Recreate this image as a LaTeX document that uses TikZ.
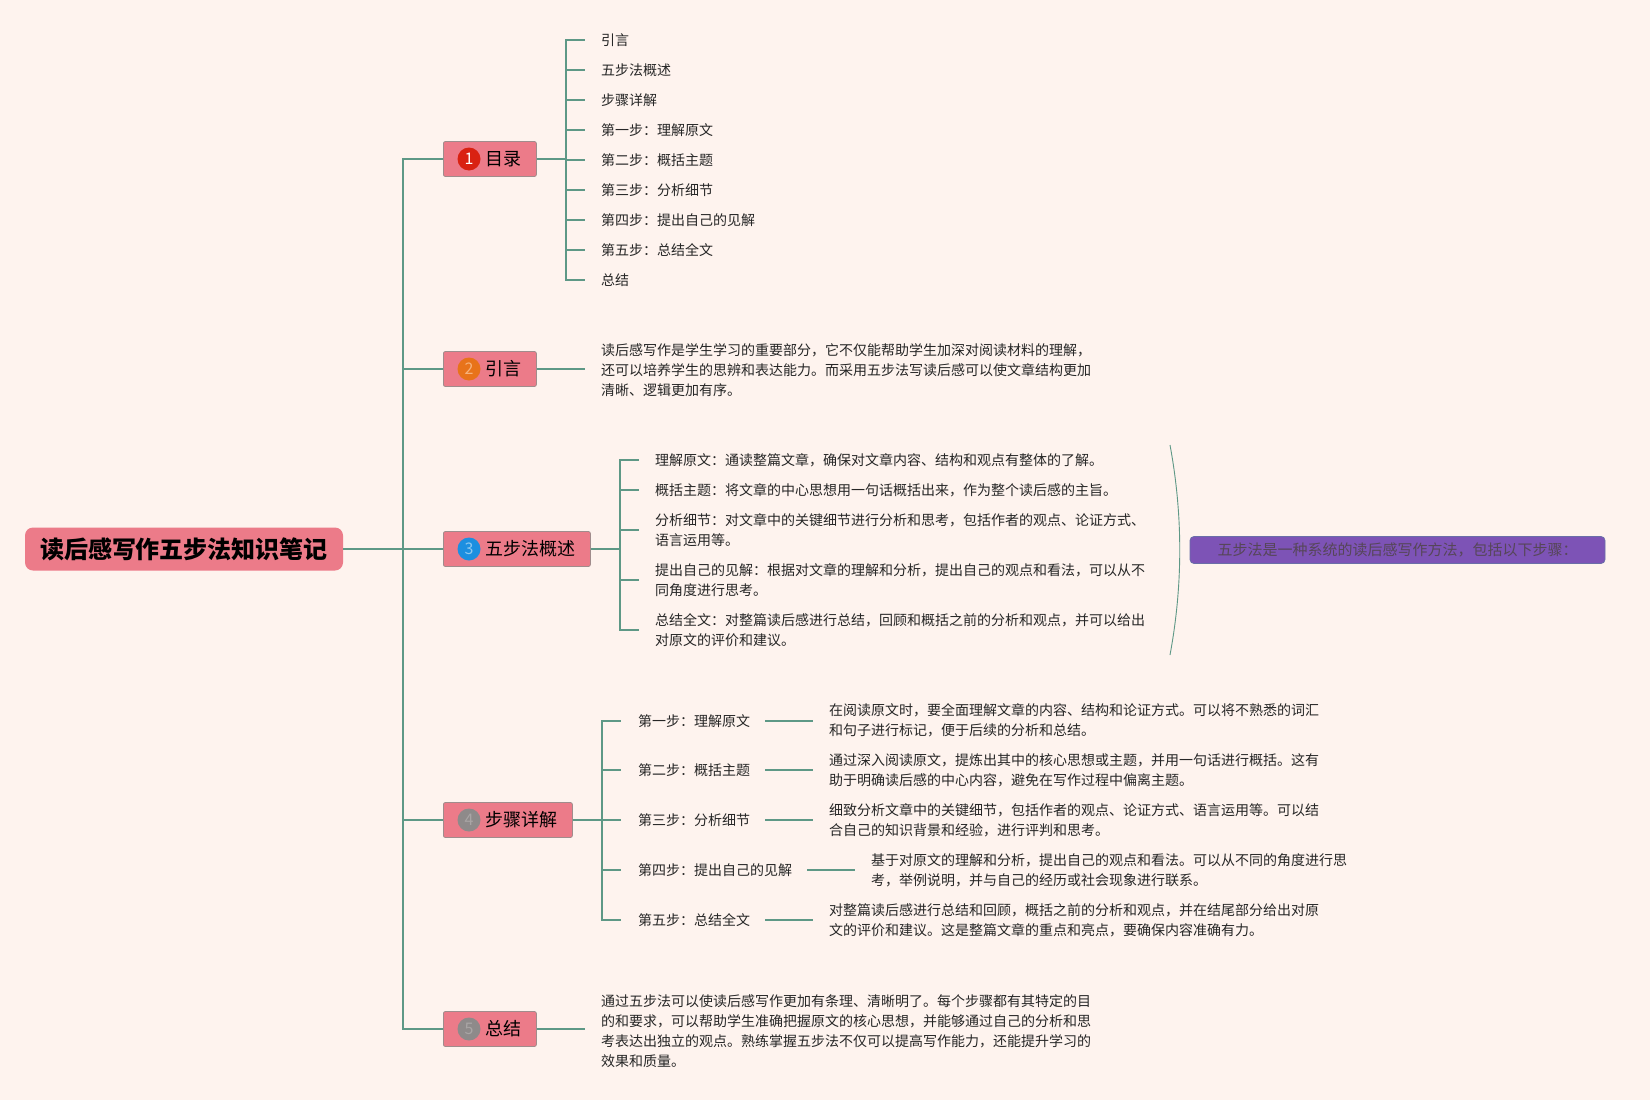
\documentclass[tikz,border=0pt]{standalone}
\usepackage{fontspec}
\setmainfont{Noto Sans CJK SC}
\definecolor{bgc}{HTML}{FEF3EE}
\definecolor{lc}{HTML}{5E9886}
\definecolor{pk}{HTML}{EC7B89}
\definecolor{bd}{HTML}{A08C8C}
\definecolor{tc}{HTML}{262626}
\definecolor{cred}{HTML}{D92212}
\definecolor{corg}{HTML}{E8731A}
\definecolor{corgt}{HTML}{F6B27C}
\definecolor{cblu}{HTML}{1C8FE0}
\definecolor{cblut}{HTML}{8CC8F0}
\definecolor{cgry}{HTML}{8E8A8A}
\definecolor{cgryt}{HTML}{A9A5A5}
\definecolor{purp}{HTML}{7D53B6}
\definecolor{purpb}{HTML}{6A6EA8}
\definecolor{purpt}{HTML}{564658}
\begin{document}
\begin{tikzpicture}[x=1pt,y=-1pt,
  conn/.style={draw=lc, line width=1.8pt},
  txt/.style={anchor=west, inner sep=0pt, align=left, font=\fontsize{14}{20}\selectfont, text=tc},
  rootbox/.style={fill=pk, rounded corners=8pt, minimum width=318pt, minimum height=43pt, inner sep=0pt, font=\fontsize{24}{28}\selectfont\bfseries, text=black},
  branch/.style={anchor=west, draw=bd, line width=0.8pt, fill=pk, rounded corners=2pt, minimum height=35pt, inner xsep=15pt, inner ysep=0pt, font=\fontsize{18}{20}\selectfont, text=black},
  num/.style={circle, minimum size=23pt, inner sep=0pt, font=\fontsize{16}{16}\selectfont}
]
\fill[bgc] (0,0) rectangle (1650,1100);
\useasboundingbox (0,0) rectangle (1650,1100);

% root
\node[rootbox] (root) at (184,549) {读后感写作五步法知识笔记};
\coordinate (tr) at (403,549);

% branches
\node[branch] (b1) at (443,159) {\hspace*{27pt}目录};
\node[branch] (b2) at (443,369) {\hspace*{27pt}引言};
\node[branch] (b3) at (443,549) {\hspace*{27pt}五步法概述};
\node[branch] (b4) at (443,820) {\hspace*{27pt}步骤详解};
\node[branch] (b5) at (443,1029) {\hspace*{27pt}总结};
\node[num, fill=cred, text=white] (n1) at ([xshift=26pt]b1.west) {1};
\node[num, fill=corg, text=corgt] (n2) at ([xshift=26pt]b2.west) {2};
\node[num, fill=cblu, text=cblut] (n3) at ([xshift=26pt]b3.west) {3};
\node[num, fill=cgry, text=cgryt] (n4) at ([xshift=26pt]b4.west) {4};
\node[num, fill=cgry, text=cgryt] (n5) at ([xshift=26pt]b5.west) {5};

\draw[conn] (root.east) -- (tr);
\foreach \b in {b1,b2,b3,b4,b5} \draw[conn] (tr) |- (\b.west);

% branch 1: table of contents
\node[txt] (m1) at (601,40) {引言};
\node[txt] (m2) at (601,70) {五步法概述};
\node[txt] (m3) at (601,100) {步骤详解};
\node[txt] (m4) at (601,130) {第一步：理解原文};
\node[txt] (m5) at (601,160) {第二步：概括主题};
\node[txt] (m6) at (601,190) {第三步：分析细节};
\node[txt] (m7) at (601,220) {第四步：提出自己的见解};
\node[txt] (m8) at (601,250) {第五步：总结全文};
\node[txt] (m9) at (601,280) {总结};
\coordinate (k1) at (566,159);
\draw[conn] (b1.east) -- (k1);
\foreach \m in {m1,m2,m3,m4,m5,m6,m7,m8,m9} \draw[conn] (k1) |- ([xshift=-16pt]\m.west);

% branch 2: intro
\node[txt] (intro) at (601,370) {读后感写作是学生学习的重要部分，它不仅能帮助学生加深对阅读材料的理解，\\还可以培养学生的思辨和表达能力。而采用五步法写读后感可以使文章结构更加\\清晰、逻辑更加有序。};
\draw[conn] (b2.east) -- ([xshift=-16pt]intro.west |- b2.east);

% branch 3: overview
\node[txt] (o1) at (655,460) {理解原文：通读整篇文章，确保对文章内容、结构和观点有整体的了解。};
\node[txt] (o2) at (655,490) {概括主题：将文章的中心思想用一句话概括出来，作为整个读后感的主旨。};
\node[txt] (o3) at (655,530) {分析细节：对文章中的关键细节进行分析和思考，包括作者的观点、论证方式、\\语言运用等。};
\node[txt] (o4) at (655,580) {提出自己的见解：根据对文章的理解和分析，提出自己的观点和看法，可以从不\\同角度进行思考。};
\node[txt] (o5) at (655,630) {总结全文：对整篇读后感进行总结，回顾和概括之前的分析和观点，并可以给出\\对原文的评价和建议。};
\coordinate (k3) at (620,549);
\draw[conn] (b3.east) -- (k3);
\foreach \m in {o1,o2,o3,o4,o5} \draw[conn] (k3) |- ([xshift=-16pt]\m.west);

\coordinate (arcT) at (1170,445);
\coordinate (arcB) at (1170,655);
\draw[lc, line width=0.9pt] (arcT) .. controls (1183,515) and (1183,585) .. (arcB);
\node[fill=purp, draw=purpb, line width=0.8pt, rounded corners=4pt, minimum width=415pt, minimum height=27pt, inner sep=0pt, font=\fontsize{15}{18}\selectfont, text=purpt] (sum3) at (1397.5,550) {五步法是一种系统的读后感写作方法，包括以下步骤：};

% branch 4: steps in detail
\node[txt] (s1) at (638,721) {第一步：理解原文};
\node[txt] (s2) at (638,770) {第二步：概括主题};
\node[txt] (s3) at (638,820) {第三步：分析细节};
\node[txt] (s4) at (638,870) {第四步：提出自己的见解};
\node[txt] (s5) at (638,920) {第五步：总结全文};
\coordinate (k4) at (602,820);
\draw[conn] (b4.east) -- (k4);
\foreach \m in {s1,s2,s3,s4,s5} \draw[conn] (k4) |- ([xshift=-17pt]\m.west);

\node[txt] (d1) at (829,720) {在阅读原文时，要全面理解文章的内容、结构和论证方式。可以将不熟悉的词汇\\和句子进行标记，便于后续的分析和总结。};
\node[txt] (d2) at (829,770) {通过深入阅读原文，提炼出其中的核心思想或主题，并用一句话进行概括。这有\\助于明确读后感的中心内容，避免在写作过程中偏离主题。};
\node[txt] (d3) at (829,820) {细致分析文章中的关键细节，包括作者的观点、论证方式、语言运用等。可以结\\合自己的知识背景和经验，进行评判和思考。};
\node[txt] (d4) at (871,870) {基于对原文的理解和分析，提出自己的观点和看法。可以从不同的角度进行思\\考，举例说明，并与自己的经历或社会现象进行联系。};
\node[txt] (d5) at (829,920) {对整篇读后感进行总结和回顾，概括之前的分析和观点，并在结尾部分给出对原\\文的评价和建议。这是整篇文章的重点和亮点，要确保内容准确有力。};
\foreach \i in {1,...,5} \draw[conn] ([xshift=15pt]s\i.east) -- ([xshift=-16pt]d\i.west |- s\i.east);

% branch 5: summary
\node[txt] (concl) at (601,1031) {通过五步法可以使读后感写作更加有条理、清晰明了。每个步骤都有其特定的目\\的和要求，可以帮助学生准确把握原文的核心思想，并能够通过自己的分析和思\\考表达出独立的观点。熟练掌握五步法不仅可以提高写作能力，还能提升学习的\\效果和质量。};
\draw[conn] (b5.east) -- ([xshift=-16pt]concl.west |- b5.east);
\end{tikzpicture}
\end{document}
